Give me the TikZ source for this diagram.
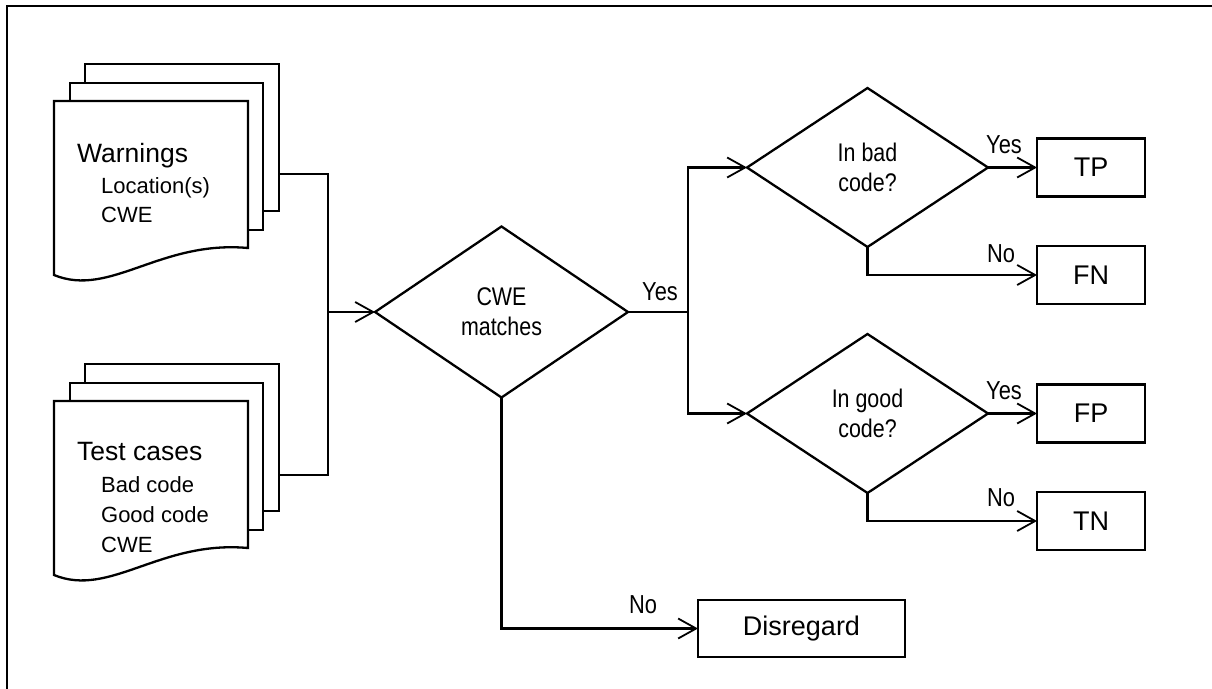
\documentclass[tikz,border=0pt]{standalone}
\usepackage{fontspec}
\setmainfont{Liberation Sans}
\newfontfamily\narrowfont[FakeStretch=0.84]{Liberation Sans}
\usetikzlibrary{shapes.geometric,arrows.meta}
\begin{document}
\begin{tikzpicture}[x=1pt,y=-1pt,line width=2.3pt,
  box/.style={draw,rectangle,minimum width=108pt,minimum height=58pt,inner sep=0pt,outer sep=0pt,font=\fontsize{27}{30}\selectfont},
  dec/.style={draw,diamond,inner sep=0pt,outer sep=0pt,align=center,font=\narrowfont\fontsize{25.5}{30}\selectfont},
  arr/.style={-{Straight Barb[length=18pt,width=20pt,line width=1.8pt]}},
  lbl/.style={font=\narrowfont\fontsize{26}{30}\selectfont,inner sep=0pt},
  page/.style={draw,fill=white,line width=2.3pt},
  head/.style={anchor=base west,inner sep=0pt,font=\fontsize{26.5}{30}\selectfont},
  item/.style={anchor=base west,inner sep=0pt,font=\fontsize{22}{26}\selectfont}
]
\useasboundingbox (0,0) rectangle (1212,688);
% frame
\draw[line width=2.6pt] (1216,6) -- (7,6) -- (7,692);

% warnings stack
\draw[page] (85,64) rectangle (279,211);
\draw[page] (70,83) rectangle (263,230);
\draw[page] (54,101) -- (248,101) -- (248,248) .. controls (160,240) and (110,298) .. (54,275) -- cycle;
\node[head] (warn) at (76,162) {Warnings};
\node[item] (loc) at (100,193) {Location(s)};
\node[item] (cwe1) at (100,222) {CWE};
\coordinate (wout) at (279,174);

% test cases stack
\begin{scope}[shift={(0,300)}]
\draw[page] (85,64) rectangle (279,211);
\draw[page] (70,83) rectangle (263,230);
\draw[page] (54,101) -- (248,101) -- (248,248) .. controls (160,240) and (110,298) .. (54,275) -- cycle;
\coordinate (tout) at (279,175);
\end{scope}
\node[head] (test) at (76,460) {Test cases};
\node[item] (badc) at (100,492) {Bad code};
\node[item] (goodc) at (100,522) {Good code};
\node[item] (cwe2) at (100,552) {CWE};

% decisions
\node[dec,minimum width=253pt,minimum height=171pt] (cwe) at (501.5,312) {CWE\\matches};
\node[dec,minimum width=241pt,minimum height=159pt] (bad) at (867.5,167.5) {In bad\\code?};
\node[dec,minimum width=241pt,minimum height=159pt] (good) at (867.5,413.5) {In good\\code?};

% results
\node[box] (tp) at (1091,167.5) {TP};
\node[box] (fn) at (1091,275) {FN};
\node[box] (fp) at (1091,413.5) {FP};
\node[box] (tn) at (1091,521) {TN};
\node[box,minimum width=207pt,minimum height=57pt] (dis) at (801.5,628.5) {Disregard};

% connectors
\coordinate (join) at (328,312);
\draw (wout) -| (join);
\draw (tout) -| (join);
\draw[arr] (join) -- (cwe.west);
\coordinate (split) at (688,312);
\draw (cwe.east) -- (split);
\draw[arr] (split) |- (bad.west);
\draw[arr] (split) |- (good.west);
\draw[arr] (bad.east) -- (tp.west);
\draw[arr] (bad.south) |- (fn.west);
\draw[arr] (good.east) -- (fp.west);
\draw[arr] (good.south) |- (tn.west);
\draw[arr] (cwe.south) |- (dis.west);

% labels
\node[lbl] (l0) at (660,292) {Yes};
\node[lbl] (l1) at (1004,145) {Yes};
\node[lbl] (l2) at (1001,254) {No};
\node[lbl] (l3) at (1004,391) {Yes};
\node[lbl] (l4) at (1001,498) {No};
\node[lbl] (l5) at (643,605) {No};
\end{tikzpicture}
\end{document}
